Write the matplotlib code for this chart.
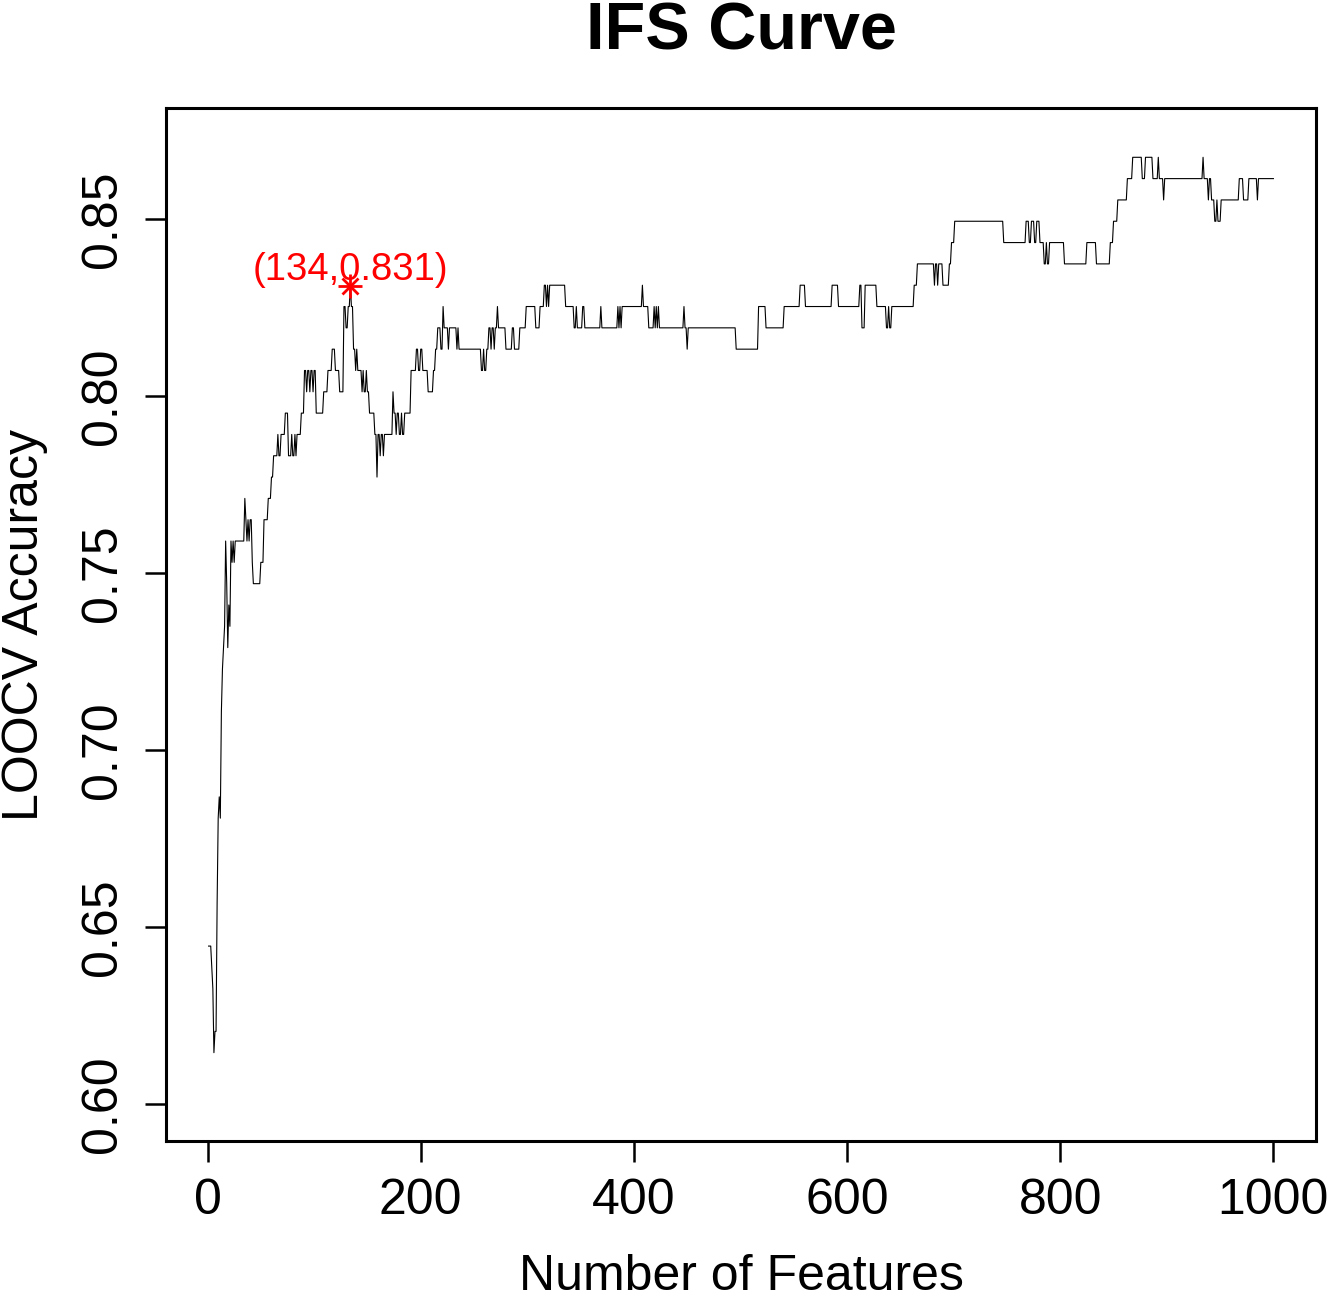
import numpy as np
import matplotlib
matplotlib.use("Agg")
import matplotlib.pyplot as plt

plt.rcParams['font.family'] = ['Liberation Sans', 'DejaVu Sans']

# LOOCV on 166 samples: accuracy = correct / 166
n_samples = 166
n_features = 1000

# step runs: feature index where a run starts, and correct count
run_start = [1, 4, 5, 6, 7, 9, 10, 11, 12, 13, 14, 15, 16, 17, 18, 19, 20, 21, 22, 23,
             24, 25, 26, 35, 36, 37, 38, 39, 40, 42, 43, 50, 53, 57, 60, 62, 66, 67, 69, 73,
             76, 79, 80, 82, 83, 84, 88, 91, 93, 94, 96, 97, 99, 100, 102, 109, 113, 117, 120, 124,
             128, 130, 132, 134, 135, 137, 139, 140, 141, 145, 146, 147, 149, 150, 152, 157, 159, 160, 162, 163,
             165, 166, 174, 175, 177, 178, 180, 182, 183, 185, 191, 196, 198, 200, 202, 207, 212, 214, 216, 219,
             221, 222, 226, 227, 234, 235, 236, 257, 259, 260, 262, 264, 266, 267, 269, 270, 272, 273, 280, 286,
             288, 293, 299, 308, 312, 316, 318, 319, 320, 321, 336, 344, 346, 347, 352, 354, 369, 370, 385, 386,
             387, 388, 389, 408, 409, 414, 419, 420, 421, 422, 423, 424, 447, 448, 450, 451, 496, 517, 524, 541,
             556, 561, 586, 592, 612, 614, 617, 628, 637, 639, 640, 642, 663, 666, 682, 683, 685, 686, 690, 696,
             698, 701, 747, 768, 771, 773, 776, 778, 781, 785, 787, 788, 790, 804, 825, 834, 847, 850, 854, 863,
             868, 877, 880, 887, 892, 893, 897, 898, 934, 935, 939, 940, 942, 945, 947, 948, 951, 968, 972, 977,
             985, 986]
run_correct = [107, 106, 105, 102, 103, 109, 113, 114, 113, 118, 120, 121, 122, 126, 124, 121, 123, 122, 126, 125,
               126, 125, 126, 128, 127, 126, 127, 126, 127, 125, 124, 125, 127, 128, 129, 130, 131, 130, 131, 132,
               130, 131, 130, 131, 130, 131, 132, 134, 133, 134, 133, 134, 133, 134, 132, 133, 134, 135, 134, 133,
               137, 136, 137, 138, 137, 135, 134, 135, 134, 133, 134, 133, 134, 133, 132, 131, 129, 131, 130, 131,
               130, 131, 133, 132, 131, 132, 131, 132, 131, 132, 134, 135, 134, 135, 134, 133, 134, 135, 136, 135,
               137, 136, 135, 136, 135, 136, 135, 134, 135, 134, 135, 136, 135, 136, 135, 136, 137, 136, 135, 136,
               135, 136, 137, 136, 137, 138, 137, 138, 137, 138, 137, 136, 137, 136, 137, 136, 137, 136, 137, 136,
               137, 136, 137, 138, 137, 136, 137, 136, 137, 136, 137, 136, 137, 136, 135, 136, 135, 137, 136, 137,
               138, 137, 138, 137, 138, 136, 138, 137, 136, 137, 136, 137, 138, 139, 138, 139, 138, 139, 138, 139,
               140, 141, 140, 141, 140, 141, 140, 141, 140, 139, 140, 139, 140, 139, 140, 139, 140, 141, 142, 143,
               144, 143, 144, 143, 144, 143, 142, 143, 144, 143, 142, 143, 142, 141, 142, 141, 142, 143, 142, 143,
               142, 143]

best_n = 134
best_acc = 0.831

x_ticks = [0, 200, 400, 600, 800, 1000]
y_ticks = [0.60, 0.65, 0.70, 0.75, 0.80, 0.85]

features = np.arange(1, n_features + 1)
idx = np.searchsorted(run_start, features, side='right') - 1
accuracy = np.array(run_correct)[idx] / n_samples

W, H = 1334, 1299
fig = plt.figure(figsize=(W / 100, H / 100), dpi=100)
ax = fig.add_axes([166 / W, 1 - 1141 / H, (1316 - 166) / W, (1141 - 108) / H])

ax.plot(features, accuracy, color='black', linewidth=0.8)
ax.plot([best_n], [best_acc], marker='+', color='red', markersize=17, mew=2)
ax.plot([best_n], [best_acc], marker='x', color='red', markersize=12, mew=2)
ax.annotate("(%d,%.3f)" % (best_n, best_acc), (best_n, best_acc), xytext=(0, -1),
            textcoords='offset points', ha='center', va='bottom', color='red', fontsize=27.5)

ax.set_xlim(-38.96, 1039.96)
ax.set_ylim(0.5895, 0.8814)
ax.set_xticks(x_ticks)
ax.set_xticklabels([str(t) for t in x_ticks])
ax.set_yticks(y_ticks)
ax.set_yticklabels(["%.2f" % t for t in y_ticks], rotation=90, va='center')

for s in ax.spines.values():
    s.set_linewidth(2.2)
ax.tick_params(direction='out', length=15, width=1.8, labelsize=36, pad=12)
ax.tick_params(axis='y', pad=14)

fig.text((166 + 1316) / 2 / W, 1 - 33 / H, "IFS Curve", ha='center', va='center',
         fontsize=48, fontweight='bold')
fig.text((166 + 1316) / 2 / W, 1 - 1277 / H, "Number of Features", ha='center', va='center',
         fontsize=36)
fig.text(25 / W, 1 - 625 / H, "LOOCV Accuracy", ha='center', va='center', rotation=90,
         fontsize=36)

fig.savefig("out.png", dpi=100)
